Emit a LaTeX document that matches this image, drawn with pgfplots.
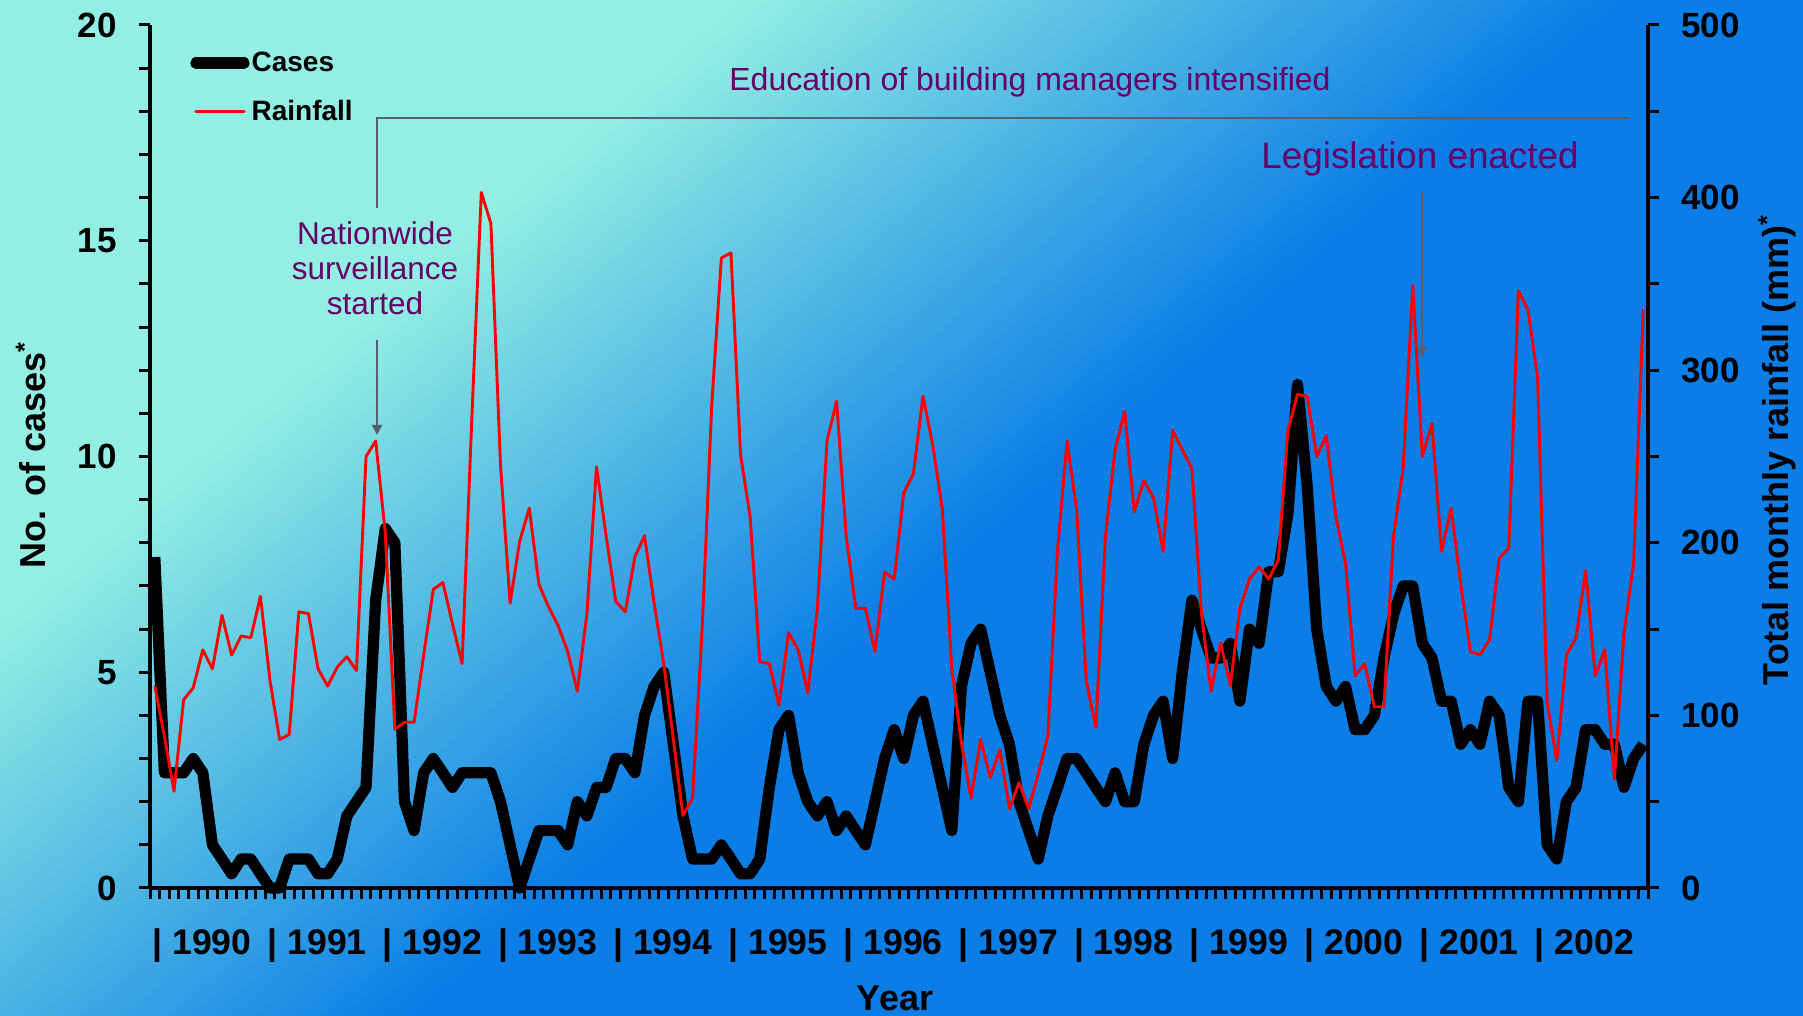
\documentclass[border=0pt]{standalone}
\usepackage{pgfplots}
\pgfplotsset{compat=1.18}
\usepackage{pgfplotstable}
\usetikzlibrary{arrows.meta}
\usepackage{fontspec}
\setmainfont{Liberation Sans}
\definecolor{bgA}{RGB}{147,239,227}
\definecolor{bgB}{RGB}{10,125,230}
\definecolor{annot}{RGB}{102,0,102}
\definecolor{brk}{RGB}{85,95,110}

\pgfplotstableread{
i c r
0 7.67 117
1 2.67 88
2 2.67 56
3 2.67 109
4 3.00 116
5 2.67 138
6 1.00 127
7 0.67 158
8 0.33 135
9 0.67 146
10 0.67 145
11 0.33 169
12 0.00 120
13 0.00 86
14 0.67 89
15 0.67 160
16 0.67 159
17 0.33 127
18 0.33 117
19 0.67 128
20 1.67 134
21 2.00 126
22 2.33 250
23 6.67 259
24 8.33 206
25 8.00 92
26 2.00 96
27 1.33 96
28 2.67 135
29 3.00 173
30 2.67 177
31 2.33 153
32 2.67 130
33 2.67 270
34 2.67 403
35 2.67 385
36 2.00 245
37 1.00 165
38 0.00 201
39 0.67 220
40 1.33 176
41 1.33 163
42 1.33 152
43 1.00 137
44 2.00 114
45 1.67 159
46 2.33 244
47 2.33 204
48 3.00 166
49 3.00 160
50 2.67 192
51 4.00 204
52 4.67 165
53 5.00 130
54 3.33 86
55 1.67 42
56 0.67 52
57 0.67 150
58 0.67 280
59 1.00 365
60 0.67 368
61 0.33 251
62 0.33 215
63 0.67 131
64 2.33 130
65 3.67 106
66 4.00 148
67 2.67 138
68 2.00 113
69 1.67 162
70 2.00 259
71 1.33 282
72 1.67 204
73 1.33 162
74 1.00 162
75 2.00 137
76 3.00 183
77 3.67 179
78 3.00 229
79 4.00 240
80 4.33 285
81 3.33 257
82 2.33 220
83 1.33 127
84 4.67 84
85 5.67 52
86 6.00 86
87 5.00 64
88 4.00 80
89 3.33 46
90 2.00 61
91 1.33 46
92 0.67 66
93 1.67 88
94 2.33 195
95 3.00 259
96 3.00 219
97 2.67 120
98 2.33 93
99 2.00 204
100 2.67 254
101 2.00 276
102 2.00 218
103 3.33 236
104 4.00 226
105 4.33 195
106 3.00 265
107 5.00 254
108 6.67 243
109 6.00 159
110 5.33 114
111 5.33 142
112 5.67 117
113 4.33 162
114 6.00 179
115 5.67 186
116 7.33 179
117 7.33 190
118 8.67 265
119 11.67 286
120 9.33 285
121 6.00 250
122 4.67 262
123 4.33 215
124 4.67 188
125 3.67 123
126 3.67 130
127 4.00 105
128 5.33 105
129 6.33 204
130 7.00 243
131 7.00 349
132 5.67 250
133 5.33 269
134 4.33 195
135 4.33 220
136 3.33 176
137 3.67 137
138 3.33 135
139 4.33 144
140 4.00 191
141 2.33 197
142 2.00 346
143 4.33 335
144 4.33 296
145 1.00 107
146 0.67 74
147 2.00 135
148 2.33 145
149 3.67 184
150 3.67 123
151 3.33 138
152 3.33 63
153 2.33 148
154 3.00 188
155 3.33 335
}\datatable

\begin{document}
\begin{tikzpicture}
\path[use as bounding box] (0pt,0pt) rectangle (901.5pt,508pt);
% background gradient
\begin{scope}
\clip (0pt,0pt) rectangle (901.5pt,508pt);
\begin{scope}[shift={(0pt,508pt)}, rotate=-50]
\fill[bgA] (-200pt,-1400pt) rectangle (240.3pt,1400pt);
\foreach \k in {0,...,39} {
  \pgfmathsetmacro\xa{240+\k*7.0}
  \pgfmathsetmacro\xb{\xa+7.4}
  \pgfmathsetmacro\p{100-(\k+0.5)*2.5}
  \fill[bgA!\p!bgB] (\xa pt,-1400pt) rectangle (\xb pt,1400pt);
}
\fill[bgB] (519.9pt,-1400pt) rectangle (1600pt,1400pt);
\end{scope}
\end{scope}

\begin{axis}[
  at={(75pt,64pt)}, anchor=south west,
  scale only axis, width=749pt, height=431.5pt,
  xmin=-0.5, xmax=155.5, ymin=0, ymax=20,
  axis x line*=bottom, axis y line*=left,
  axis line style={line width=1.7pt,-},
  xtick={-0.5,0.5,...,155.5}, xticklabels={},
  ytick={0,5,10,15,20}, minor y tick num=4,
  tick align=outside, major tick length=5.5pt, minor tick length=5.5pt,
  tick style={line width=1.5pt,black},
  /pgf/number format/assume math mode=true,
  yticklabel style={font=\bfseries\fontsize{17.5}{20}\selectfont, inner sep=0pt, anchor=east, xshift=-11pt},
  clip=false,
  legend style={at={(0.0267,0.9717)}, anchor=north west, draw=none, fill=none,
    font=\bfseries\fontsize{14}{16}\selectfont, row sep=10.7pt,
    inner xsep=0pt, inner ysep=0pt, nodes={inner sep=1pt}, cells={anchor=west}},
  legend image code/.code={\draw[#1,line cap=round] (0pt,0pt) -- (24pt,0pt);},
]
\addplot[black, line width=5.6pt, line join=round] table[x=i,y=c]{\datatable};
\addlegendentry{Cases}
\addlegendimage{red, line width=1.6pt}
\addlegendentry{Rainfall}
\end{axis}

\begin{axis}[
  at={(75pt,64pt)}, anchor=south west,
  scale only axis, width=749pt, height=431.5pt,
  xmin=-0.5, xmax=155.5, ymin=0, ymax=500,
  axis x line=none, axis y line*=right,
  axis line style={line width=1.7pt,-},
  ytick={0,100,...,500}, minor y tick num=1,
  tick align=outside, major tick length=5.5pt, minor tick length=5.5pt,
  tick style={line width=1.5pt,black},
  /pgf/number format/assume math mode=true,
  yticklabel style={font=\bfseries\fontsize{17.5}{20}\selectfont, inner sep=0pt, anchor=west, xshift=11pt},
  clip=false,
]
\addplot[red, line width=1.45pt, line join=round] table[x=i,y=r]{\datatable};
\end{axis}

% year labels
\foreach \k/\yr in {0/1990,1/1991,2/1992,3/1993,4/1994,5/1995,6/1996,7/1997,8/1998,9/1999,10/2000,11/2001,12/2002} {
  \node[anchor=base west, inner sep=0pt, font=\bfseries\fontsize{17.8}{20}\selectfont] at ({75pt+57.6pt*\k+1pt},30.5pt) {| \yr};
}
\node[anchor=base, inner sep=0pt, font=\bfseries\fontsize{18}{20}\selectfont] at (447.5pt,2.5pt) {Year};
\node[rotate=90, inner sep=0pt, font=\bfseries\fontsize{18}{20}\selectfont] at (15.5pt,280.5pt) {No. of cases\textsuperscript{*}};
\node[rotate=90, inner sep=0pt, font=\bfseries\fontsize{18}{20}\selectfont] at (888.5pt,283pt) {Total monthly rainfall (mm)\textsuperscript{*}};

% annotations
\node[text=annot, font=\fontsize{16}{18}\selectfont] at (515pt,467pt) {Education of building managers intensified};
\draw[brk, line width=1pt] (188.5pt,404pt) -- (188.5pt,449pt) -- (814.5pt,449pt);
\node[text=annot, align=center, font=\fontsize{15.75}{17.5}\selectfont] at (187.5pt,374pt) {Nationwide\\surveillance\\started};
\draw[brk, line width=1pt, -{Triangle[width=5pt,length=5pt]}] (188.5pt,338pt) -- (188.5pt,290.5pt);
\node[text=annot, font=\fontsize{18.4}{20}\selectfont] at (710pt,428.5pt) {Legislation enacted};
\draw[brk, line width=1pt, -{Triangle[width=5pt,length=5pt]}] (711pt,412pt) -- (711pt,329.5pt);
\end{tikzpicture}
\end{document}
